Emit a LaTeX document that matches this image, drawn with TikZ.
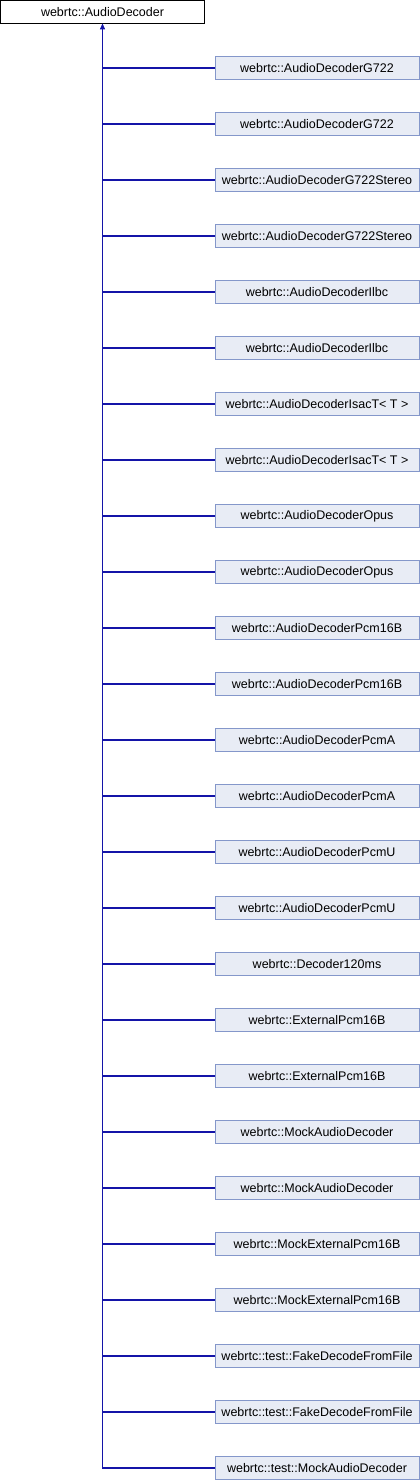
\documentclass[tikz,border=0pt]{standalone}
\usepackage{fontspec}
\setmainfont{Liberation Sans}
\usetikzlibrary{arrows.meta}
\definecolor{boxfill}{HTML}{E8ECF5}
\definecolor{boxline}{HTML}{8497CA}
\definecolor{edgeblue}{HTML}{1414A8}
\tikzstyle{base}=[rectangle,draw=black,fill=white,minimum width=204,minimum height=23,inner sep=0pt,font=\fontsize{12.5}{14}\selectfont]
\tikzstyle{cls}=[rectangle,draw=boxline,fill=boxfill,minimum width=204,minimum height=23,inner sep=0pt,font=\fontsize{12.5}{14}\selectfont]
\tikzstyle{edge}=[draw=edgeblue,line width=1.1pt]
\begin{document}
\begin{tikzpicture}[x=1pt,y=-1pt]
\useasboundingbox (0,0) rectangle (420,1480);
\node[base] (root) at (102.5,11.7) {webrtc::AudioDecoder};
\node[cls] (c1) at (317,68) {webrtc::AudioDecoderG722};
\node[cls] (c2) at (317,124) {webrtc::AudioDecoderG722};
\node[cls] (c3) at (317,180) {webrtc::AudioDecoderG722Stereo};
\node[cls] (c4) at (317,236) {webrtc::AudioDecoderG722Stereo};
\node[cls] (c5) at (317,292) {webrtc::AudioDecoderIlbc};
\node[cls] (c6) at (317,348) {webrtc::AudioDecoderIlbc};
\node[cls] (c7) at (317,404) {webrtc::AudioDecoderIsacT< T >};
\node[cls] (c8) at (317,460) {webrtc::AudioDecoderIsacT< T >};
\node[cls] (c9) at (317,516) {webrtc::AudioDecoderOpus};
\node[cls] (c10) at (317,572) {webrtc::AudioDecoderOpus};
\node[cls] (c11) at (317,628) {webrtc::AudioDecoderPcm16B};
\node[cls] (c12) at (317,684) {webrtc::AudioDecoderPcm16B};
\node[cls] (c13) at (317,740) {webrtc::AudioDecoderPcmA};
\node[cls] (c14) at (317,796) {webrtc::AudioDecoderPcmA};
\node[cls] (c15) at (317,852) {webrtc::AudioDecoderPcmU};
\node[cls] (c16) at (317,908) {webrtc::AudioDecoderPcmU};
\node[cls] (c17) at (317,964) {webrtc::Decoder120ms};
\node[cls] (c18) at (317,1020) {webrtc::ExternalPcm16B};
\node[cls] (c19) at (317,1076) {webrtc::ExternalPcm16B};
\node[cls] (c20) at (317,1132) {webrtc::MockAudioDecoder};
\node[cls] (c21) at (317,1188) {webrtc::MockAudioDecoder};
\node[cls] (c22) at (317,1244) {webrtc::MockExternalPcm16B};
\node[cls] (c23) at (317,1300) {webrtc::MockExternalPcm16B};
\node[cls] (c24) at (317,1356) {webrtc::test::FakeDecodeFromFile};
\node[cls] (c25) at (317,1412) {webrtc::test::FakeDecodeFromFile};
\node[cls] (c26) at (317,1468) {webrtc::test::MockAudioDecoder};
% trunk with the arrow up to the base class
\draw[edge,-{Triangle[length=6pt,width=5pt]}] (c26.west) -| (root.south);
\foreach \i in {1,...,25}
  \draw[edge] (c\i.west) -- (c\i.west -| root.south);
\end{tikzpicture}
\end{document}
